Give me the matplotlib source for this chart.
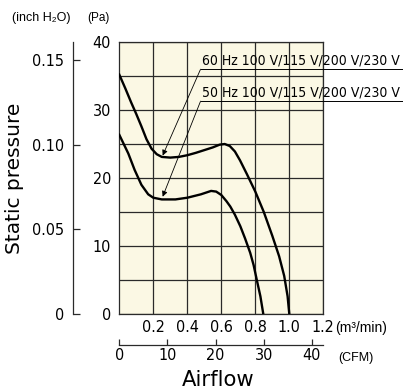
import matplotlib.pyplot as plt
from matplotlib import font_manager
import numpy as np

# values (airflow m3/min, static pressure Pa)
flow_60 = [0, 0.035, 0.07, 0.1, 0.13, 0.16, 0.19, 0.22, 0.25, 0.3, 0.35, 0.4, 0.45, 0.5,
           0.55, 0.59, 0.62, 0.65, 0.68, 0.71, 0.75, 0.8, 0.85, 0.9, 0.94, 0.97, 0.99, 1.0]
pa_60 = [35.2, 33.2, 31.1, 29.4, 27.6, 25.7, 24.3, 23.5, 23.1, 23.0, 23.1, 23.35, 23.7, 24.1,
         24.5, 24.9, 25.0, 24.7, 23.9, 22.6, 20.6, 18.0, 15.0, 11.5, 8.5, 5.6, 2.6, 0]

flow_50 = [0, 0.053, 0.09, 0.13, 0.17, 0.2, 0.25, 0.33, 0.4, 0.48, 0.54, 0.57, 0.6, 0.63,
           0.653, 0.68, 0.712, 0.74, 0.77, 0.79, 0.808, 0.83, 0.847]
pa_50 = [26.35, 23.6, 21.2, 19.0, 17.6, 17.1, 16.85, 16.85, 17.1, 17.6, 18.1, 18.0, 17.5, 16.6,
         15.8, 14.6, 12.9, 11.1, 9.0, 7.2, 5.1, 2.6, 0]

labels = ["60 Hz 100 V/115 V/200 V/230 V", "50 Hz 100 V/115 V/200 V/230 V"]
arrow_tips = [(0.255, 23.3), (0.255, 17.25)]
label_y = [36.0, 31.3]

m3_ticks = [0.2, 0.4, 0.6, 0.8, 1.0, 1.2]
cfm_ticks = [0, 10, 20, 30, 40]
inch_ticks = [0, 0.05, 0.10, 0.15]
pa_ticks = [0, 10, 20, 30, 40]

PA_PER_INCH = 249.09
M3MIN_PER_CFM = 0.0283168

# narrow font for the numbers, if one is installed
narrow = None
for key in ['LiberationSansNarrow-Regular', 'DejaVuSansCondensed.', 'Narrow', 'Condensed']:
    hits = [f.fname for f in font_manager.fontManager.ttflist
            if key in f.fname and 'Bold' not in f.fname and 'Oblique' not in f.fname
            and 'Italic' not in f.fname]
    if hits:
        narrow = hits[0]
        break


def num_font(size):
    if narrow:
        return font_manager.FontProperties(fname=narrow, size=size)
    return font_manager.FontProperties(family='DejaVu Sans', size=size * 0.85)


plt.rcParams['font.family'] = ['Liberation Sans', 'DejaVu Sans']

fig = plt.figure(figsize=(4.03, 3.89), dpi=100)
ax = fig.add_axes([119.3 / 403, 75 / 389, 204 / 403, 272 / 389])
ax.set_facecolor('#fbf8e4')

ax.set_xlim(0, 1.2)
ax.set_ylim(0, 40)
ax.set_xticks(m3_ticks)
ax.set_xticklabels([f"{t:.1f}" for t in m3_ticks], fontproperties=num_font(11.5))
ax.set_yticks(pa_ticks)
ax.set_yticklabels([str(t) for t in pa_ticks], fontproperties=num_font(11.5))
ax.set_yticks(np.arange(0, 41, 5), minor=True)
ax.tick_params(axis='both', which='both', length=0)
ax.tick_params(axis='x', pad=4)
ax.tick_params(axis='y', pad=6)
ax.grid(True, which='both', color='#2a2a2a', linewidth=0.9)
for s in ax.spines.values():
    s.set_color('#2a2a2a')
    s.set_linewidth(0.9)

ax.plot(flow_60, pa_60, color='black', linewidth=1.7, solid_joinstyle='round', zorder=3)
ax.plot(flow_50, pa_50, color='black', linewidth=1.7, solid_joinstyle='round', zorder=3)

# leader lines with labels
for lab, tip, ly in zip(labels, arrow_tips, label_y):
    ax.annotate('', xy=tip, xytext=(0.478, ly), zorder=4,
                arrowprops=dict(arrowstyle='-|>', color='black', lw=0.6,
                                mutation_scale=8, shrinkA=0, shrinkB=0))
    ax.plot([0.478, 2.0], [ly, ly], color='black', lw=0.7, clip_on=False, zorder=4)
    ax.text(0.488, ly + 0.2, lab, fontproperties=num_font(10), va='bottom', ha='left',
            clip_on=False, zorder=4)

# inch H2O axis on the left
sec_y = ax.secondary_yaxis(-0.228, functions=(lambda p: p / PA_PER_INCH,
                                               lambda i: i * PA_PER_INCH))
sec_y.set_yticks(inch_ticks)
sec_y.set_yticklabels(["0", "0.05", "0.10", "0.15"], fontproperties=num_font(11.5))
sec_y.tick_params(direction='in', length=5, width=0.9, pad=6, color='#2a2a2a')
sec_y.spines['left'].set_color('#2a2a2a')
sec_y.spines['left'].set_linewidth(0.9)

# CFM axis below
sec_x = ax.secondary_xaxis(-0.114, functions=(lambda m: m / M3MIN_PER_CFM,
                                              lambda c: c * M3MIN_PER_CFM))
sec_x.set_xticks(cfm_ticks)
sec_x.set_xticklabels([str(t) for t in cfm_ticks], fontproperties=num_font(11.5))
sec_x.tick_params(direction='in', length=4, width=0.9, pad=2, color='#2a2a2a')
sec_x.spines['bottom'].set_color('#2a2a2a')
sec_x.spines['bottom'].set_linewidth(0.9)

fig.text(12 / 403, 1 - 18 / 389, "(inch H₂O)", fontsize=9, va='center', ha='left')
fig.text(87 / 403, 1 - 18 / 389, "(Pa)", fontsize=8.5, va='center', ha='left')
fig.text(335 / 403, 1 - 328 / 389, "(m³/min)", fontsize=10, va='center', ha='left')
fig.text(338 / 403, 1 - 358 / 389, "(CFM)", fontsize=9, va='center', ha='left')
fig.text(218 / 403, 1 - 380 / 389, "Airflow", fontsize=15.2, va='center', ha='center',
         family='DejaVu Sans')
fig.text(15 / 403, 1 - 178 / 389, "Static pressure", fontsize=14.5, va='center', ha='center',
         rotation=90, family='DejaVu Sans')

fig.savefig("out.png", dpi=100)
